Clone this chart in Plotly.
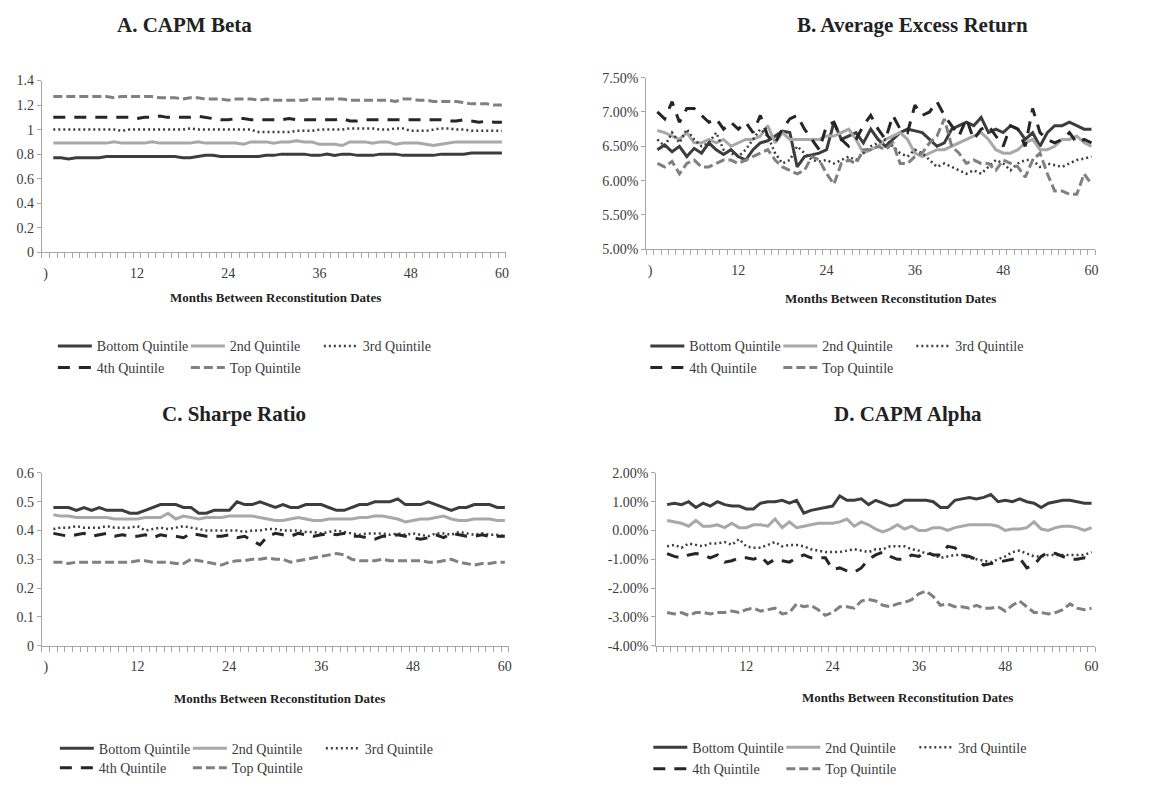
import plotly.graph_objects as go

W, H = 1162, 788
FONT = "Liberation Serif"

months = list(range(1, 61))
series_names = ["Bottom Quintile", "2nd Quintile", "3rd Quintile", "4th Quintile", "Top Quintile"]

# ---------------- A. CAPM Beta ----------------
a_bottom = [0.77,0.77,0.76,0.77,0.77,0.77,0.77,0.78,0.78,0.78,
            0.78,0.78,0.78,0.78,0.78,0.78,0.78,0.77,0.77,0.78,
            0.79,0.79,0.78,0.78,0.78,0.78,0.78,0.78,0.79,0.79,
            0.80,0.80,0.80,0.80,0.79,0.79,0.80,0.79,0.80,0.80,
            0.79,0.79,0.79,0.80,0.80,0.80,0.79,0.79,0.79,0.79,
            0.79,0.80,0.80,0.80,0.80,0.81,0.81,0.81,0.81,0.81]
a_2nd = [0.89,0.89,0.89,0.89,0.89,0.89,0.89,0.89,0.90,0.89,
         0.89,0.89,0.89,0.90,0.89,0.89,0.89,0.89,0.89,0.90,
         0.89,0.89,0.89,0.89,0.89,0.88,0.90,0.90,0.90,0.89,
         0.90,0.90,0.91,0.90,0.90,0.88,0.88,0.88,0.87,0.90,
         0.90,0.90,0.89,0.90,0.90,0.88,0.89,0.89,0.89,0.88,
         0.87,0.88,0.89,0.90,0.90,0.90,0.90,0.90,0.90,0.90]
a_3rd = [1.00,1.00,1.00,1.00,1.00,1.00,1.00,1.00,1.00,0.99,
         1.00,1.00,1.00,1.00,1.00,1.00,1.00,1.00,1.01,1.00,
         1.00,1.00,1.00,1.00,1.00,1.00,1.00,0.98,0.98,0.98,
         0.98,0.98,0.99,0.99,0.99,1.00,1.00,1.00,1.00,1.01,
         1.01,1.01,1.01,1.00,1.00,1.01,1.01,0.99,0.99,0.99,
         1.00,1.01,1.01,1.00,1.00,0.99,0.99,0.99,0.99,0.99]
a_4th = [1.10,1.10,1.10,1.10,1.10,1.10,1.10,1.10,1.10,1.10,
         1.10,1.09,1.10,1.10,1.11,1.10,1.10,1.10,1.10,1.11,
         1.10,1.09,1.08,1.08,1.09,1.09,1.08,1.08,1.08,1.08,
         1.08,1.09,1.08,1.08,1.08,1.08,1.08,1.08,1.09,1.07,
         1.07,1.08,1.08,1.08,1.08,1.08,1.08,1.08,1.08,1.08,
         1.08,1.08,1.07,1.07,1.08,1.07,1.06,1.07,1.06,1.06]
a_top = [1.27,1.27,1.27,1.27,1.27,1.27,1.27,1.27,1.26,1.27,
         1.27,1.27,1.27,1.27,1.26,1.26,1.26,1.25,1.26,1.26,
         1.25,1.25,1.25,1.24,1.25,1.25,1.25,1.24,1.25,1.24,
         1.24,1.24,1.24,1.24,1.25,1.25,1.25,1.25,1.25,1.24,
         1.24,1.24,1.24,1.24,1.24,1.23,1.25,1.25,1.24,1.24,
         1.23,1.23,1.23,1.23,1.22,1.21,1.21,1.21,1.20,1.20]

# ---------------- B. Average Excess Return (%) ----------------
b_bottom = [6.45,6.52,6.42,6.50,6.35,6.47,6.40,6.55,6.45,6.38,
            6.45,6.35,6.30,6.45,6.55,6.58,6.65,6.72,6.70,6.20,
            6.35,6.38,6.40,6.45,6.85,6.60,6.65,6.70,6.55,6.75,
            6.60,6.50,6.60,6.70,6.75,6.72,6.70,6.60,6.50,6.55,
            6.75,6.80,6.85,6.80,6.92,6.70,6.75,6.70,6.80,6.75,
            6.60,6.70,6.50,6.70,6.80,6.80,6.85,6.80,6.75,6.75]
b_2nd = [6.73,6.70,6.65,6.60,6.70,6.55,6.55,6.60,6.55,6.60,
         6.50,6.55,6.60,6.60,6.65,6.80,6.55,6.70,6.60,6.60,
         6.60,6.60,6.60,6.65,6.65,6.70,6.75,6.60,6.40,6.45,
         6.50,6.60,6.65,6.70,6.60,6.40,6.35,6.40,6.45,6.45,
         6.50,6.55,6.60,6.65,6.70,6.60,6.45,6.40,6.40,6.45,
         6.55,6.60,6.45,6.45,6.50,6.60,6.60,6.65,6.55,6.50]
b_3rd = [6.60,6.50,6.70,6.55,6.75,6.60,6.50,6.55,6.70,6.45,
         6.40,6.35,6.45,6.60,6.75,6.65,6.40,6.25,6.30,6.50,
         6.40,6.30,6.28,6.30,6.25,6.30,6.35,6.30,6.40,6.50,
         6.55,6.60,6.50,6.40,6.35,6.45,6.40,6.30,6.20,6.25,
         6.20,6.15,6.10,6.15,6.10,6.20,6.30,6.25,6.15,6.25,
         6.30,6.30,6.20,6.25,6.22,6.20,6.25,6.30,6.32,6.35]
b_4th = [7.00,6.90,7.15,6.85,7.05,7.05,6.95,6.85,6.90,6.75,
         6.85,6.75,6.85,6.70,6.95,6.65,6.55,6.75,6.90,6.95,
         6.75,6.60,6.45,6.80,6.85,6.60,6.50,6.60,6.80,6.95,
         6.75,6.60,6.95,6.75,6.70,7.10,6.95,7.00,7.15,6.95,
         6.80,6.65,6.90,6.60,6.75,6.80,6.65,6.50,6.80,6.75,
         6.50,7.05,6.70,6.60,6.55,6.60,6.70,6.55,6.60,6.55]
b_top = [6.25,6.20,6.28,6.10,6.25,6.30,6.20,6.20,6.25,6.30,
         6.30,6.25,6.30,6.35,6.40,6.45,6.30,6.20,6.15,6.10,
         6.15,6.35,6.30,6.10,5.95,6.25,6.30,6.25,6.45,6.45,
         6.50,6.45,6.55,6.25,6.25,6.35,6.40,6.55,6.65,6.90,
         6.50,6.40,6.25,6.30,6.25,6.25,6.15,6.30,6.25,6.20,
         6.05,6.30,6.40,6.10,5.85,5.85,5.80,5.80,6.10,5.95]

# ---------------- C. Sharpe Ratio ----------------
c_bottom = [0.48,0.48,0.48,0.47,0.48,0.47,0.48,0.47,0.47,0.47,
            0.46,0.46,0.47,0.48,0.49,0.49,0.49,0.48,0.48,0.46,
            0.46,0.47,0.47,0.47,0.50,0.49,0.49,0.50,0.49,0.48,
            0.49,0.48,0.48,0.49,0.49,0.49,0.48,0.47,0.47,0.48,
            0.49,0.49,0.50,0.50,0.50,0.51,0.49,0.49,0.49,0.50,
            0.49,0.48,0.47,0.48,0.48,0.49,0.49,0.49,0.48,0.48]
c_2nd = [0.455,0.45,0.45,0.445,0.445,0.445,0.445,0.445,0.44,0.44,
         0.44,0.44,0.445,0.445,0.445,0.46,0.44,0.45,0.445,0.44,
         0.445,0.445,0.445,0.45,0.45,0.45,0.45,0.445,0.44,0.435,
         0.435,0.44,0.445,0.44,0.435,0.435,0.44,0.44,0.44,0.44,
         0.445,0.445,0.45,0.45,0.445,0.44,0.43,0.435,0.44,0.44,
         0.445,0.45,0.44,0.435,0.435,0.44,0.44,0.44,0.435,0.435]
c_3rd = [0.405,0.41,0.41,0.415,0.41,0.41,0.41,0.415,0.41,0.41,
         0.41,0.415,0.40,0.405,0.41,0.405,0.41,0.415,0.41,0.405,
         0.40,0.40,0.40,0.40,0.40,0.395,0.40,0.40,0.405,0.405,
         0.40,0.40,0.40,0.395,0.395,0.39,0.395,0.40,0.395,0.39,
         0.385,0.39,0.39,0.39,0.385,0.39,0.385,0.39,0.385,0.38,
         0.39,0.39,0.385,0.395,0.39,0.385,0.39,0.385,0.385,0.38]
c_4th = [0.39,0.385,0.38,0.385,0.39,0.38,0.385,0.39,0.38,0.385,
         0.38,0.38,0.385,0.375,0.385,0.38,0.38,0.375,0.39,0.385,
         0.38,0.38,0.38,0.385,0.375,0.38,0.365,0.35,0.38,0.39,
         0.385,0.38,0.39,0.385,0.38,0.385,0.39,0.385,0.39,0.38,
         0.38,0.375,0.37,0.38,0.38,0.385,0.38,0.375,0.37,0.375,
         0.385,0.375,0.39,0.385,0.38,0.38,0.385,0.38,0.38,0.38]
c_top = [0.29,0.29,0.285,0.29,0.29,0.29,0.29,0.29,0.29,0.29,
         0.29,0.295,0.295,0.29,0.29,0.29,0.285,0.285,0.30,0.295,
         0.29,0.285,0.28,0.29,0.295,0.295,0.30,0.30,0.305,0.30,
         0.30,0.29,0.295,0.30,0.305,0.31,0.315,0.32,0.315,0.30,
         0.295,0.295,0.295,0.30,0.295,0.295,0.295,0.295,0.295,0.29,
         0.29,0.295,0.30,0.29,0.285,0.28,0.285,0.285,0.29,0.29]

# ---------------- D. CAPM Alpha (%) ----------------
d_bottom = [0.90,0.95,0.90,1.00,0.80,0.95,0.85,1.00,0.90,0.85,
            0.85,0.75,0.75,0.95,1.00,1.00,1.05,0.95,1.05,0.60,
            0.70,0.75,0.80,0.85,1.20,1.05,1.05,1.10,0.90,1.05,
            0.95,0.85,0.90,1.05,1.05,1.05,1.05,1.00,0.80,0.80,
            1.05,1.10,1.15,1.10,1.15,1.25,1.00,1.05,1.00,1.10,
            1.00,0.95,0.80,0.95,1.00,1.05,1.05,1.00,0.95,0.95]
d_2nd = [0.35,0.30,0.25,0.15,0.35,0.15,0.15,0.20,0.10,0.25,
         0.10,0.10,0.20,0.20,0.15,0.40,0.10,0.30,0.10,0.15,
         0.20,0.25,0.25,0.25,0.30,0.40,0.15,0.30,0.20,0.05,
         -0.05,0.05,0.20,0.05,0.15,0.00,0.00,0.10,0.10,0.00,
         0.10,0.15,0.20,0.20,0.20,0.20,0.15,0.00,0.05,0.05,
         0.10,0.30,0.05,0.00,0.10,0.15,0.15,0.10,0.00,0.10]
d_3rd = [-0.55,-0.50,-0.60,-0.45,-0.50,-0.55,-0.45,-0.45,-0.40,-0.50,
         -0.30,-0.55,-0.60,-0.60,-0.50,-0.40,-0.55,-0.50,-0.50,-0.55,
         -0.65,-0.70,-0.75,-0.75,-0.75,-0.70,-0.65,-0.70,-0.75,-0.65,
         -0.65,-0.55,-0.55,-0.55,-0.65,-0.70,-0.80,-0.85,-0.95,-0.90,
         -0.85,-0.85,-0.95,-1.00,-1.05,-1.10,-1.00,-0.90,-0.75,-0.70,
         -0.80,-0.90,-0.90,-0.85,-0.85,-0.85,-0.85,-0.85,-0.85,-0.75]
d_4th = [-0.80,-0.90,-0.95,-0.85,-0.80,-0.85,-0.95,-0.85,-1.10,-1.05,
         -0.95,-0.95,-1.00,-0.90,-1.15,-1.00,-1.05,-1.10,-0.95,-0.85,
         -0.95,-0.95,-0.95,-1.35,-1.30,-1.40,-1.45,-1.30,-1.00,-0.85,
         -0.75,-0.90,-1.00,-1.00,-0.85,-0.90,-0.75,-0.85,-0.85,-0.55,
         -0.60,-0.85,-0.90,-1.00,-1.20,-1.15,-1.10,-1.05,-1.00,-0.95,
         -1.30,-1.20,-0.90,-0.75,-0.80,-0.90,-1.00,-1.00,-0.95,-1.00]
d_top = [-2.85,-2.90,-2.85,-2.95,-2.85,-2.85,-2.90,-2.85,-2.85,-2.80,
         -2.85,-2.75,-2.70,-2.80,-2.75,-2.70,-2.90,-2.85,-2.55,-2.65,
         -2.60,-2.75,-2.95,-2.85,-2.65,-2.65,-2.70,-2.45,-2.40,-2.45,
         -2.60,-2.65,-2.55,-2.50,-2.40,-2.20,-2.10,-2.30,-2.60,-2.55,
         -2.65,-2.65,-2.70,-2.60,-2.70,-2.70,-2.65,-2.80,-2.60,-2.45,
         -2.65,-2.85,-2.85,-2.90,-2.85,-2.75,-2.55,-2.70,-2.75,-2.70]

# tick labels
x_tickvals = [0, 12, 24, 36, 48, 60]
x_ticktext = [")", "12", "24", "36", "48", "60"]
x_ticktext_d = ["", "12", "24", "36", "48", "60"]
a_yvals = [0, 0.2, 0.4, 0.6, 0.8, 1.0, 1.2, 1.4]
a_ytext = ["0", "0.2", "0.4", "0.6", "0.8", "1", "1.2", "1.4"]
b_yvals = [5.0, 5.5, 6.0, 6.5, 7.0, 7.5]
b_ytext = ["5.00%", "5.50%", "6.00%", "6.50%", "7.00%", "7.50%"]
c_yvals = [0, 0.1, 0.2, 0.3, 0.4, 0.5, 0.6]
c_ytext = ["0", "0.1", "0.2", "0.3", "0.4", "0.5", "0.6"]
d_yvals = [-4, -3, -2, -1, 0, 1, 2]
d_ytext = ["-4.00%", "-3.00%", "-2.00%", "-1.00%", "0.00%", "1.00%", "2.00%"]

titles = ["A. CAPM Beta", "B. Average Excess Return", "C. Sharpe Ratio", "D. CAPM Alpha"]
x_title = "Months Between Reconstitution Dates"

styles = [
    dict(color="#3d3d3d", width=3, dash="solid"),
    dict(color="#a8a8a8", width=3, dash="solid"),
    dict(color="#3d3d3d", width=2.5, dash="2px,3px"),
    dict(color="#262626", width=3, dash="12px,9px"),
    dict(color="#808080", width=3, dash="9px,4px"),
]

# layout geometry in page pixels
panels = [
    dict(data=[a_bottom, a_2nd, a_3rd, a_4th, a_top], x0=42, x1=507, y0=75, y1=250,
         yr=[0, 1.4], yv=a_yvals, yt=a_ytext, xt=x_ticktext,
         tx=185, ty=18, ax_x=276, ax_y=296, lx=53, ly1=346, ly2=368),
    dict(data=[b_bottom, b_2nd, b_3rd, b_4th, b_top], x0=648, x1=1098, y0=72, y1=247,
         yr=[5.0, 7.5], yv=b_yvals, yt=b_ytext, xt=x_ticktext,
         tx=915, ty=18, ax_x=893, ax_y=297, lx=647, ly1=346, ly2=368),
    dict(data=[c_bottom, c_2nd, c_3rd, c_4th, c_top], x0=42, x1=510, y0=475, y1=651,
         yr=[0, 0.6], yv=c_yvals, yt=c_ytext, xt=x_ticktext,
         tx=235, ty=415, ax_x=280, ax_y=705, lx=55, ly1=756, ly2=776),
    dict(data=[d_bottom, d_2nd, d_3rd, d_4th, d_top], x0=658, x1=1098, y0=475, y1=651,
         yr=[-4, 2], yv=d_yvals, yt=d_ytext, xt=x_ticktext_d,
         tx=910, ty=415, ax_x=910, ax_y=704, lx=650, ly1=755, ly2=777),
]

fig = go.Figure()
annotations = []
AXC = "#a6a6a6"
TXT = "#3a3a3a"

for i, p in enumerate(panels):
    n = i + 1
    xa = "x" if n == 1 else f"x{n}"
    ya = "y" if n == 1 else f"y{n}"
    leg1 = "legend" if i == 0 else f"legend{2*i+1}"
    leg2 = f"legend{2*i+2}"
    for k, (name, vals) in enumerate(zip(series_names, p["data"])):
        fig.add_trace(go.Scatter(
            x=months, y=vals, name=name, mode="lines",
            line=styles[k], xaxis=xa, yaxis=ya,
            legend=leg1 if k < 3 else leg2, showlegend=True,
        ))
    xkey = "xaxis" if n == 1 else f"xaxis{n}"
    ykey = "yaxis" if n == 1 else f"yaxis{n}"
    legcommon = dict(orientation="h", xanchor="left", yanchor="middle",
                     entrywidth=84, entrywidthmode="pixels",
                     font=dict(family=FONT, size=14, color=TXT), bgcolor="rgba(0,0,0,0)",
                     itemwidth=34, traceorder="normal")
    fig.update_layout(**{
        xkey: dict(
            domain=[p["x0"] / W, p["x1"] / W], anchor=ya,
            range=[-0.5, 60.5], tickmode="array", tickvals=x_tickvals, ticktext=p["xt"],
            ticks="", showline=True, linecolor=AXC, linewidth=1, showgrid=False, zeroline=False,
            tickfont=dict(family=FONT, size=14, color=TXT), ticklabelstandoff=8,
            minor=dict(tickmode="linear", tick0=-0.5, dtick=1, ticks="outside",
                       ticklen=5, tickcolor=AXC, tickwidth=1, showgrid=False),
        ),
        ykey: dict(
            domain=[1 - p["y1"] / H, 1 - p["y0"] / H], anchor=xa,
            range=p["yr"], tickmode="array", tickvals=p["yv"], ticktext=p["yt"],
            ticks="outside", ticklen=4, tickcolor=AXC, showline=True, linecolor=AXC,
            linewidth=1, showgrid=False, zeroline=False,
            tickfont=dict(family=FONT, size=14, color=TXT),
        ),
        leg1: dict(x=p["lx"] / W, y=1 - p["ly1"] / H, **legcommon),
        leg2: dict(x=p["lx"] / W, y=1 - p["ly2"] / H, **legcommon),
    })
    annotations.append(dict(text=titles[i], x=p["tx"] / W, y=1 - p["ty"] / H, xref="paper",
                            yref="paper", xanchor="center", yanchor="middle", showarrow=False,
                            font=dict(family=FONT, size=21, color="#222222", weight="bold")))
    annotations.append(dict(text=x_title, x=p["ax_x"] / W, y=1 - p["ax_y"] / H, xref="paper",
                            yref="paper", xanchor="center", yanchor="middle", showarrow=False,
                            font=dict(family=FONT, size=13, color="#222222", weight="bold")))

fig.update_layout(
    width=W, height=H, margin=dict(l=0, r=0, t=0, b=0),
    paper_bgcolor="white", plot_bgcolor="white",
    font=dict(family=FONT, size=14, color=TXT),
    annotations=annotations,
)

fig.write_html("out.html")
